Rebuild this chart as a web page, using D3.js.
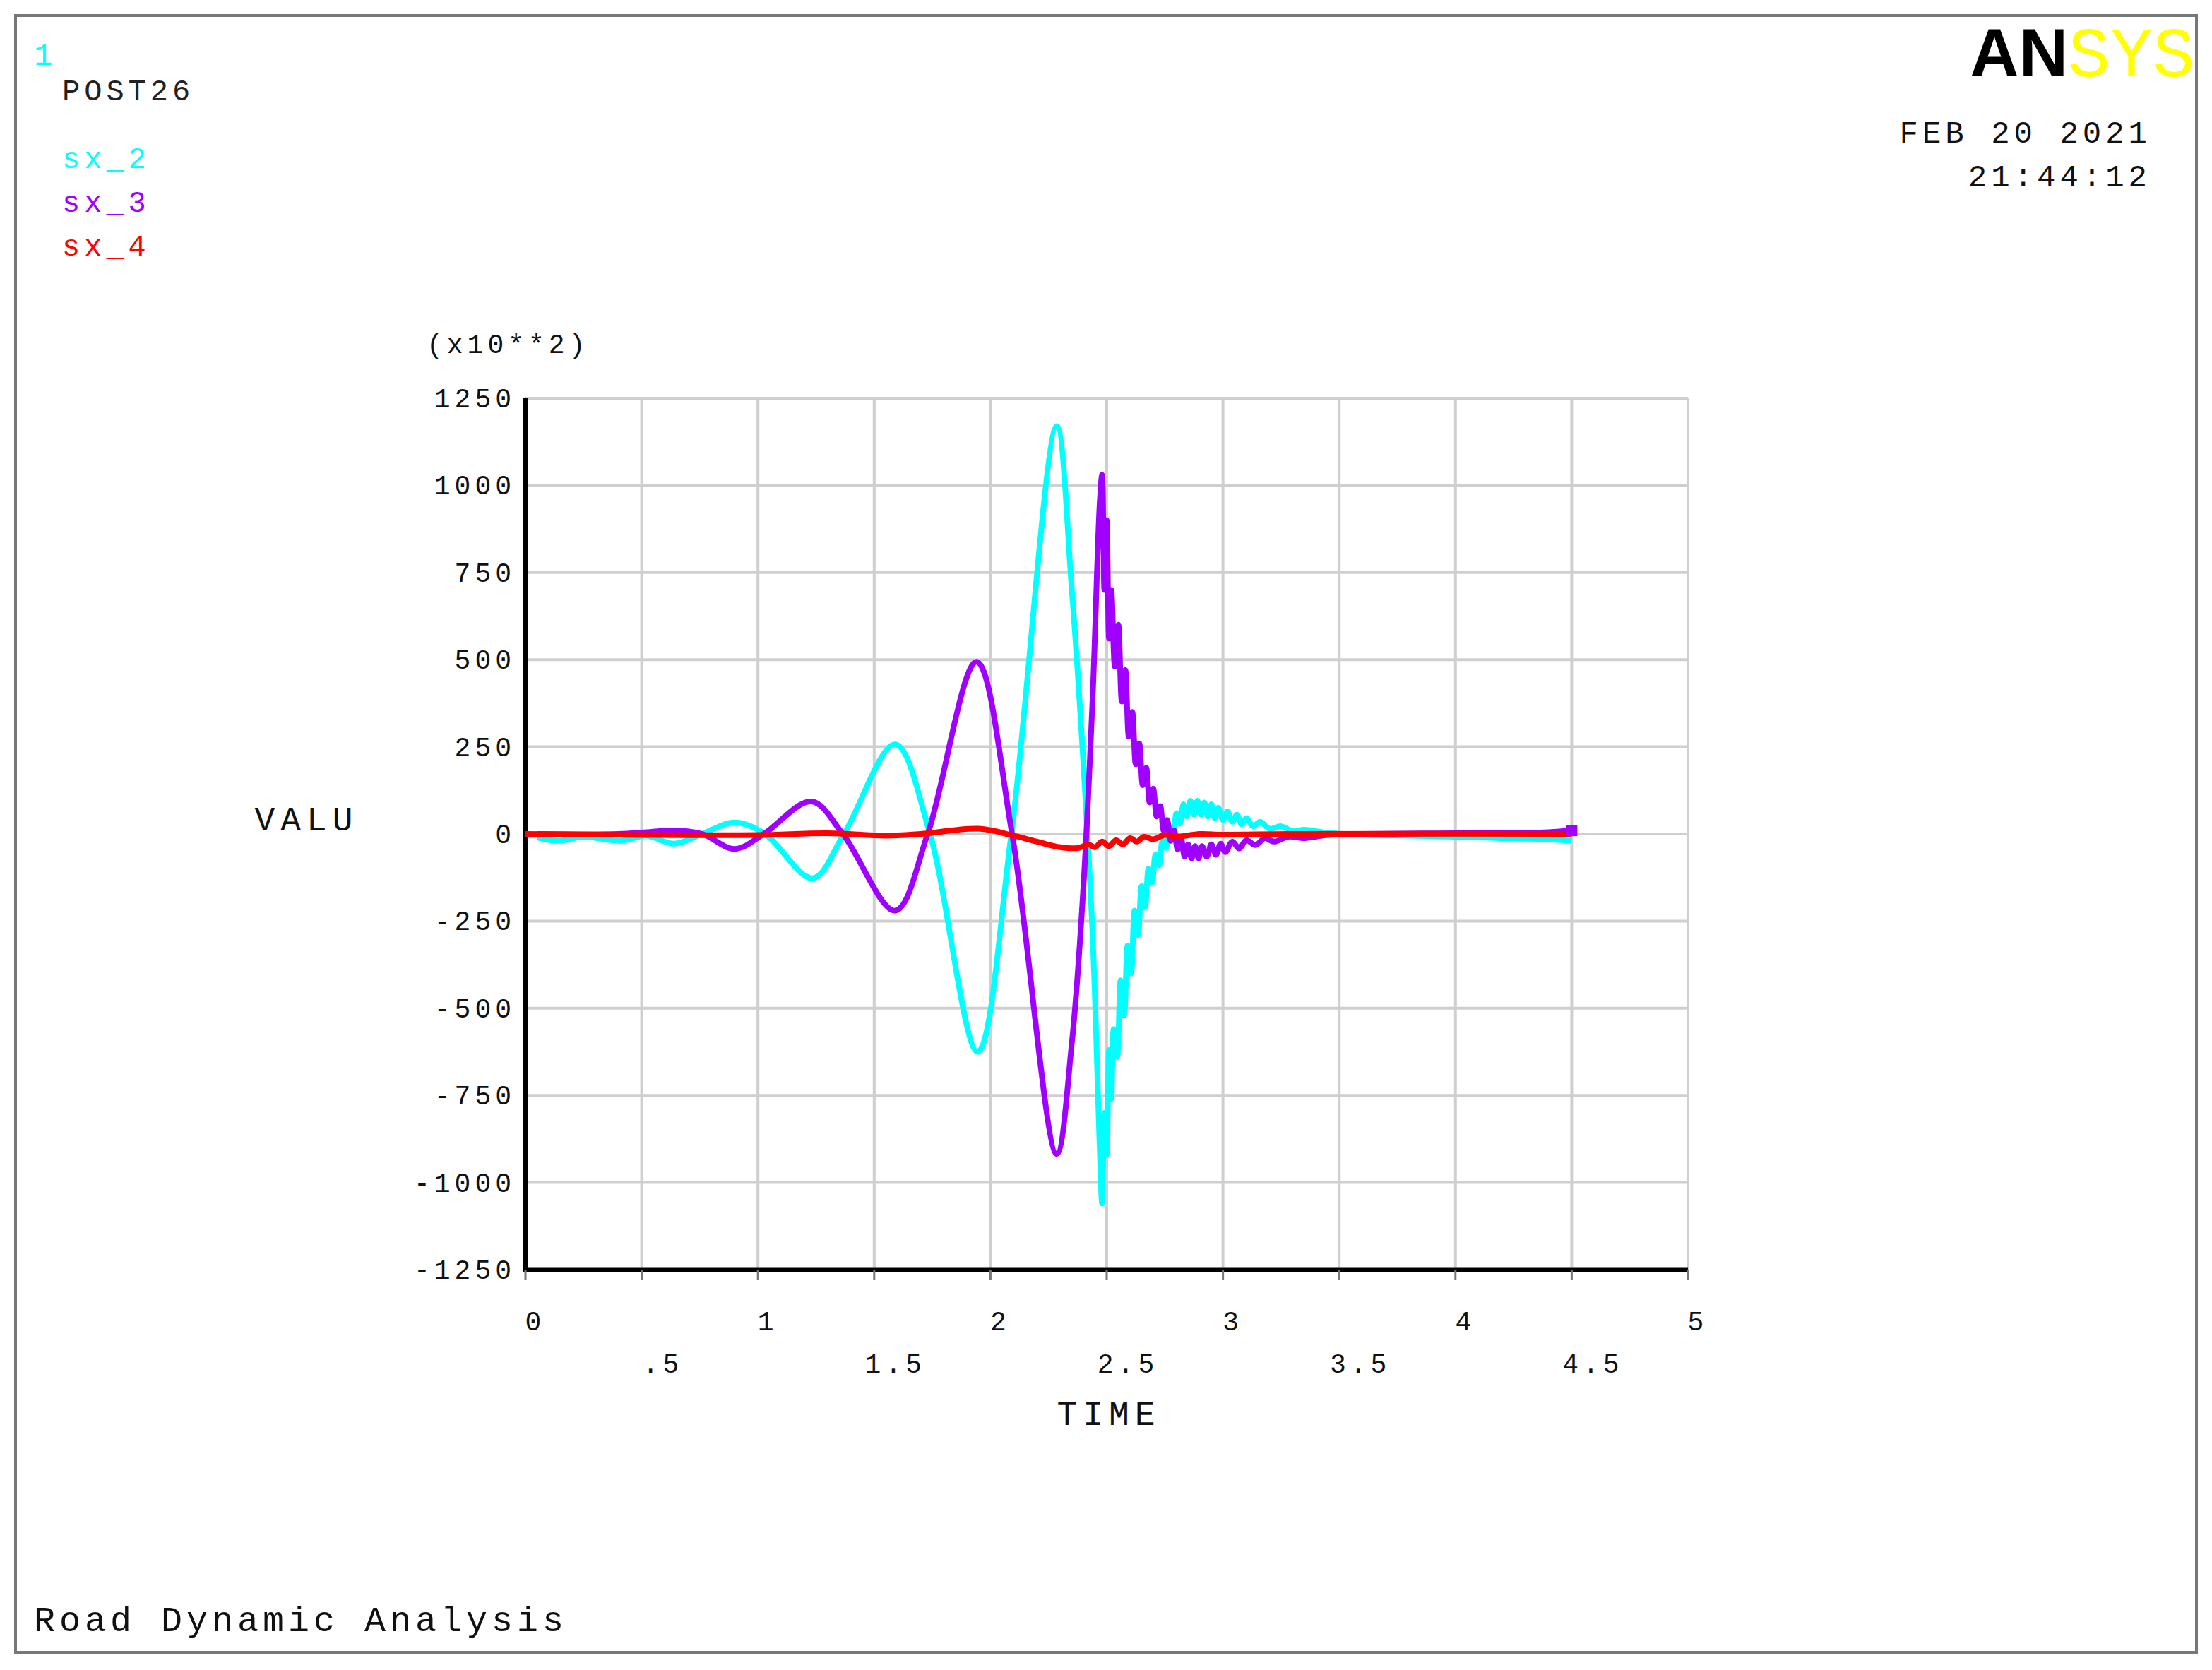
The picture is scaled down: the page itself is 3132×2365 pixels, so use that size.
<!DOCTYPE html>
<html><head><meta charset="utf-8">
<script src="https://cdn.jsdelivr.net/npm/d3@7"></script>
<style>body{margin:0;background:#fff}svg{display:block}text{font-family:"Liberation Mono","DejaVu Sans Mono",monospace;letter-spacing:6px}</style>
</head><body>
<script>
const seriesNames = ["sx_2","sx_3","sx_4"];
const seriesColors = ["#00ffff","#a000ff","#ff0000"];
const xTicksInt = [0,1,2,3,4,5];
const xTicksHalf = [0.5,1.5,2.5,3.5,4.5];
const xTickHalfLabels = [".5","1.5","2.5","3.5","4.5"];
const yTicks = [-1250,-1000,-750,-500,-250,0,250,500,750,1000,1250];
const sx2 = [[0.05,-10],[0.14,-20],[0.25,-8],[0.41,-20],[0.52,-5],[0.64,-28],[0.76,0],[0.9,33],[1.03,0],[1.235,-127],[1.37,0],[1.59,257],[1.74,0],[1.945,-625],[2.09,0],[2.285,1170],[2.35,700],[2.40,200],[2.44,-300],[2.47,-900],[2.48,-1060],[2.49,-800],[2.50,-920],[2.51,-620],[2.52,-760],[2.53,-560],[2.545,-640],[2.56,-420],[2.575,-520],[2.59,-320],[2.605,-400],[2.62,-220],[2.635,-290],[2.65,-150],[2.665,-210],[2.68,-100],[2.695,-140],[2.71,-60],[2.725,-90],[2.74,-20],[2.755,-40],[2.77,20],[2.785,0],[2.80,60],[2.815,30],[2.83,85],[2.845,50],[2.86,95],[2.875,55],[2.89,95],[2.905,55],[2.92,90],[2.935,50],[2.95,85],[2.965,45],[2.98,75],[3.0,40],[3.02,65],[3.04,35],[3.06,55],[3.08,28],[3.1,45],[3.13,22],[3.16,35],[3.2,15],[3.25,22],[3.3,8],[3.35,12],[3.45,3],[3.6,-2],[3.8,-5],[4.0,-8],[4.2,-12],[4.4,-15],[4.5,-20]];
const sx3 = [[0.05,0],[0.4,0],[0.52,5],[0.64,10],[0.76,0],[0.9,-43],[1.025,0],[1.23,93],[1.365,0],[1.59,-220],[1.73,0],[1.94,494],[2.093,0],[2.285,-918],[2.35,-600],[2.40,-150],[2.44,400],[2.47,950],[2.48,1030],[2.49,700],[2.50,900],[2.51,560],[2.52,700],[2.535,480],[2.55,600],[2.565,380],[2.58,470],[2.595,280],[2.61,350],[2.625,200],[2.64,260],[2.655,140],[2.67,190],[2.685,90],[2.70,130],[2.715,50],[2.73,80],[2.745,10],[2.76,40],[2.775,-20],[2.79,10],[2.805,-45],[2.82,-15],[2.835,-65],[2.85,-30],[2.865,-70],[2.88,-35],[2.895,-70],[2.91,-35],[2.93,-65],[2.95,-30],[2.97,-60],[2.99,-28],[3.01,-52],[3.04,-22],[3.07,-42],[3.1,-18],[3.14,-32],[3.18,-12],[3.22,-22],[3.28,-8],[3.35,-12],[3.45,-3],[3.6,0],[4.0,2],[4.4,5],[4.5,10]];
const sx4 = [[0,0],[0.5,-3],[1.0,-3],[1.3,2],[1.55,-5],[1.7,0],[1.95,15],[2.1,-5],[2.2,-22],[2.3,-38],[2.38,-40],[2.42,-30],[2.45,-38],[2.48,-22],[2.51,-35],[2.54,-18],[2.57,-30],[2.6,-12],[2.63,-22],[2.66,-8],[2.7,-15],[2.75,-3],[2.8,-8],[2.9,0],[3.0,-2],[3.3,0],[4.5,0]];
const allSeries = [sx2, sx3, sx4];

const W=3132,H=2365;
const svg=d3.select("body").append("svg").attr("width",W).attr("height",H);
svg.append("rect").attr("x",22).attr("y",22).attr("width",3088).attr("height",2318).attr("fill","#fff").attr("stroke","#777").attr("stroke-width",4);
const L=744,R=2390,T=564,B=1798;
const x=d3.scaleLinear().domain([0,5]).range([L,R]);
const y=d3.scaleLinear().domain([-1250,1250]).range([B,T]);
const g=svg.append("g");
g.selectAll(".vg").data(xTicksInt.concat(xTicksHalf)).join("line").attr("x1",d=>x(d)).attr("x2",d=>x(d)).attr("y1",T).attr("y2",B).attr("stroke","#cfcfcf").attr("stroke-width",4);
g.selectAll(".hg").data(yTicks).join("line").attr("x1",L).attr("x2",R).attr("y1",d=>y(d)).attr("y2",d=>y(d)).attr("stroke","#cfcfcf").attr("stroke-width",4);
g.append("line").attr("x1",L).attr("x2",L).attr("y1",T).attr("y2",B+3).attr("stroke","#000").attr("stroke-width",7);
g.append("line").attr("x1",L-3).attr("x2",R).attr("y1",B).attr("y2",B).attr("stroke","#000").attr("stroke-width",7);
g.selectAll(".xt").data(xTicksInt.concat(xTicksHalf)).join("line").attr("x1",d=>x(d)).attr("x2",d=>x(d)).attr("y1",B).attr("y2",B+14).attr("stroke","#777").attr("stroke-width",3);
g.selectAll(".yl").data(yTicks).join("text").attr("x",730).attr("y",d=>y(d)+13).attr("text-anchor","end").attr("font-size",38).attr("fill","#111").text(d=>d);
g.selectAll(".xl").data(xTicksInt).join("text").attr("x",d=>x(d)+14).attr("y",1884).attr("text-anchor","middle").attr("font-size",38).attr("fill","#111").text(d=>d);
g.selectAll(".xh").data(xTicksHalf).join("text").attr("x",d=>x(d)+30).attr("y",1944).attr("text-anchor","middle").attr("font-size",38).attr("fill","#111").text((d,i)=>xTickHalfLabels[i]);
const line=d3.line().x(d=>x(d[0])).y(d=>y(d[1])).curve(d3.curveCatmullRom.alpha(0.5));
const widths=[8,8,8];
allSeries.forEach((s,i)=>{
  g.append("path").datum(s).attr("d",line).attr("fill","none").attr("stroke",seriesColors[i]).attr("stroke-width",widths[i]).attr("stroke-linejoin","round");
});
const e3=sx3[sx3.length-1];
g.append("rect").attr("x",x(e3[0])-8).attr("y",y(e3[1])-8).attr("width",16).attr("height",16).attr("fill",seriesColors[1]);
svg.append("text").attr("x",48).attr("y",92).attr("font-size",44).attr("fill","#00ffff").text("1");
svg.append("text").attr("x",88).attr("y",142).attr("font-size",42).attr("fill","#222").text("POST26");
seriesNames.forEach((n,i)=>svg.append("text").attr("x",88).attr("y",238+i*62).attr("font-size",42).attr("fill",seriesColors[i]).text(n));
const logo=svg.append("text").attr("x",3108).attr("y",108).attr("text-anchor","end").attr("font-size",100).attr("font-family","Liberation Serif").attr("font-weight","bold").style("letter-spacing","0px");
logo.append("tspan").attr("fill","#000").attr("font-family","Liberation Sans").attr("font-size",96).text("AN");
logo.append("tspan").attr("fill","#ffff00").attr("font-weight","normal").text("SYS");
svg.append("text").attr("x",3046).attr("y",202).attr("text-anchor","end").attr("font-size",44).attr("fill","#111").text("FEB 20 2021");
svg.append("text").attr("x",3046).attr("y",264).attr("text-anchor","end").attr("font-size",44).attr("fill","#111").text("21:44:12");
svg.append("text").attr("x",604).attr("y",500).attr("font-size",38).attr("fill","#111").text("(x10**2)");
svg.append("text").attr("x",434).attr("y",1176).attr("text-anchor","middle").attr("font-size",48).attr("fill","#111").style("letter-spacing","8px").text("VALU");
svg.append("text").attr("x",1570).attr("y",2018).attr("text-anchor","middle").attr("font-size",48).attr("fill","#111").style("letter-spacing","8px").text("TIME");
svg.append("text").attr("x",48).attr("y",2310).attr("font-size",50).attr("fill","#111").text("Road Dynamic Analysis");
</script>
</body></html>
